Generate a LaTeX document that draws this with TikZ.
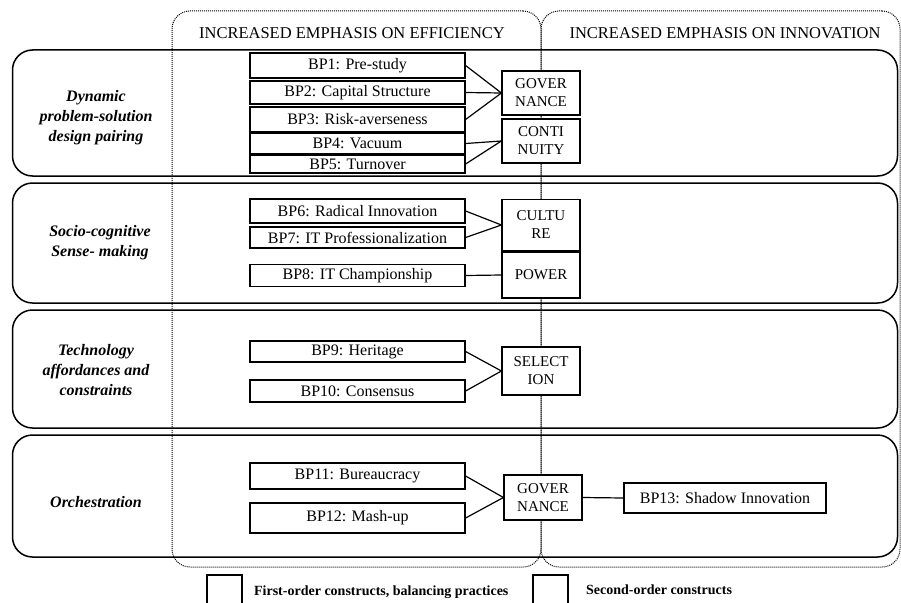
\documentclass[tikz,border=0pt]{standalone}
\usepackage{fontspec}
\setmainfont{Liberation Serif}[
  BoldFont={Liberation Serif Bold},
  ItalicFont={Liberation Serif Italic},
  BoldItalicFont={Liberation Serif Bold Italic}]
\usetikzlibrary{positioning}

\tikzset{
  rowbox/.style={draw, line width=1.5pt, rounded corners=20pt, minimum width=885pt, inner sep=0pt},
  halfbox/.style={draw, dash pattern=on 1pt off 1pt, line width=1pt, rounded corners=18pt, inner sep=0pt},
  rowlabel/.style={align=center, font=\fontsize{16}{20}\selectfont\bfseries\itshape},
  head/.style={font=\fontsize{16.5}{20}\selectfont},
  bpbox/.style={draw, fill=white, line width=1.2pt, minimum width=215pt, inner sep=0pt, font=\fontsize{16}{18}\selectfont},
  cbox/.style={draw, fill=white, line width=1.2pt, minimum width=78pt, inner sep=0pt, align=center, font=\fontsize{15}{18}\selectfont},
  keybox/.style={draw, line width=1.2pt, minimum width=35pt, minimum height=34pt, inner sep=0pt},
  keytext/.style={font=\fontsize{14}{16}\selectfont\bfseries},
  link/.style={line width=1.2pt}
}

\begin{document}
\begin{tikzpicture}[x=1pt, y=-1pt]
      \useasboundingbox (0,0) rectangle (901,602);%

      % emphasis columns
      \node [halfbox, minimum width=369pt, minimum height=556pt] (eff) at (356.5,289) {};%
      \node [halfbox, minimum width=359pt, minimum height=556pt] (inn) at (720.5,289) {};%
      \node [head] (effhead) at (352,33) {INCREASED EMPHASIS ON EFFICIENCY};%
      \node [head] (innhead) at (725,33) {INCREASED EMPHASIS ON INNOVATION};%

      % rows
      \node [rowbox, minimum height=126pt] (row1) at (455,113) {};%
      \node [rowbox, minimum height=120pt] (row2) at (455,243) {};%
      \node [rowbox, minimum height=118pt] (row3) at (455,369) {};%
      \node [rowbox, minimum height=122pt] (row4) at (455,496) {};%

      \node [rowlabel] (lab1) at (96,118) {Dynamic\\problem-solution\\design pairing};%
      \node [rowlabel] (lab2) at (100,243) {Socio-cognitive\\ Sense- making};%
      \node [rowlabel] (lab3) at (96,370) {Technology\\affordances and\\constraints};%
      \node [rowlabel] (lab4) at (96,502) {Orchestration};%

      % row 1
      \node [bpbox, minimum height=25pt] (bp1) at (357.5,65.5) {BP1: Pre-study};%
      \node [bpbox, minimum height=23pt] (bp2) at (357.5,92.5) {BP2: Capital Structure};%
      \node [bpbox, minimum height=25pt] (bp3) at (357.5,119.5) {BP3: Risk-averseness};%
      \node [bpbox, minimum height=21pt] (bp4) at (357.5,143.5) {BP4: Vacuum};%
      \node [bpbox, minimum height=18pt] (bp5) at (357.5,164) {BP5: Turnover};%
      \node [cbox, minimum height=44pt] (gov1) at (541,93) {GOVER\\NANCE};%
      \node [cbox, minimum height=44pt] (cont) at (541,141) {CONTI\\NUITY};%
      \draw [link] (bp1.east) -- (gov1.west);%
      \draw [link] (bp2.east) -- (gov1.west);%
      \draw [link] (bp3.east) -- (gov1.west);%
      \draw [link] (bp4.east) -- (cont.west);%
      \draw [link] (bp5.east) -- (cont.west);%

      % row 2
      \node [bpbox, minimum height=24pt] (bp6) at (357.5,211) {BP6: Radical Innovation};%
      \node [bpbox, minimum height=21pt] (bp7) at (357.5,237.5) {BP7: IT Professionalization};%
      \node [bpbox, minimum height=22pt] (bp8) at (357.5,275.5) {BP8: IT Championship};%
      \node [cbox, minimum height=51pt] (cult) at (541,225) {CULTU\\RE};%
      \node [cbox, minimum height=46pt] (power) at (541,275) {POWER};%
      \draw [link] (bp6.east) -- (cult.west);%
      \draw [link] (bp7.east) -- (cult.west);%
      \draw [link] (bp8.east) -- (power.west);%

      % row 3
      \node [bpbox, minimum height=21pt] (bp9) at (357.5,351.5) {BP9: Heritage};%
      \node [bpbox, minimum height=22pt] (bp10) at (357.5,391) {BP10: Consensus};%
      \node [cbox, minimum height=48pt] (sel) at (541,371) {SELECT\\ION};%
      \draw [link] (bp9.east) -- (sel.west);%
      \draw [link] (bp10.east) -- (sel.west);%

      % row 4
      \node [bpbox, minimum height=26pt] (bp11) at (357.5,476) {BP11: Bureaucracy};%
      \node [bpbox, minimum height=30pt] (bp12) at (357.5,518) {BP12: Mash-up};%
      \node [cbox, minimum height=45pt] (gov2) at (543,497.5) {GOVER\\NANCE};%
      \node [bpbox, minimum width=202pt, minimum height=30pt] (bp13) at (725,498) {BP13: Shadow Innovation};%
      \draw [link] (bp11.east) -- (gov2.west);%
      \draw [link] (bp12.east) -- (gov2.west);%
      \draw [link] (gov2.east) -- (bp13.west);%

      % legend
      \node [keybox] (key1) at (224.5,592) {};%
      \node [keytext, right=8pt of key1, yshift=0pt] (key1txt) {First-order constructs, balancing practices};%
      \node [keybox] (key2) at (550.5,592) {};%
      \node [keytext, right=14pt of key2, yshift=2pt] (key2txt) {Second-order constructs};%
    \end{tikzpicture}
\end{document}
